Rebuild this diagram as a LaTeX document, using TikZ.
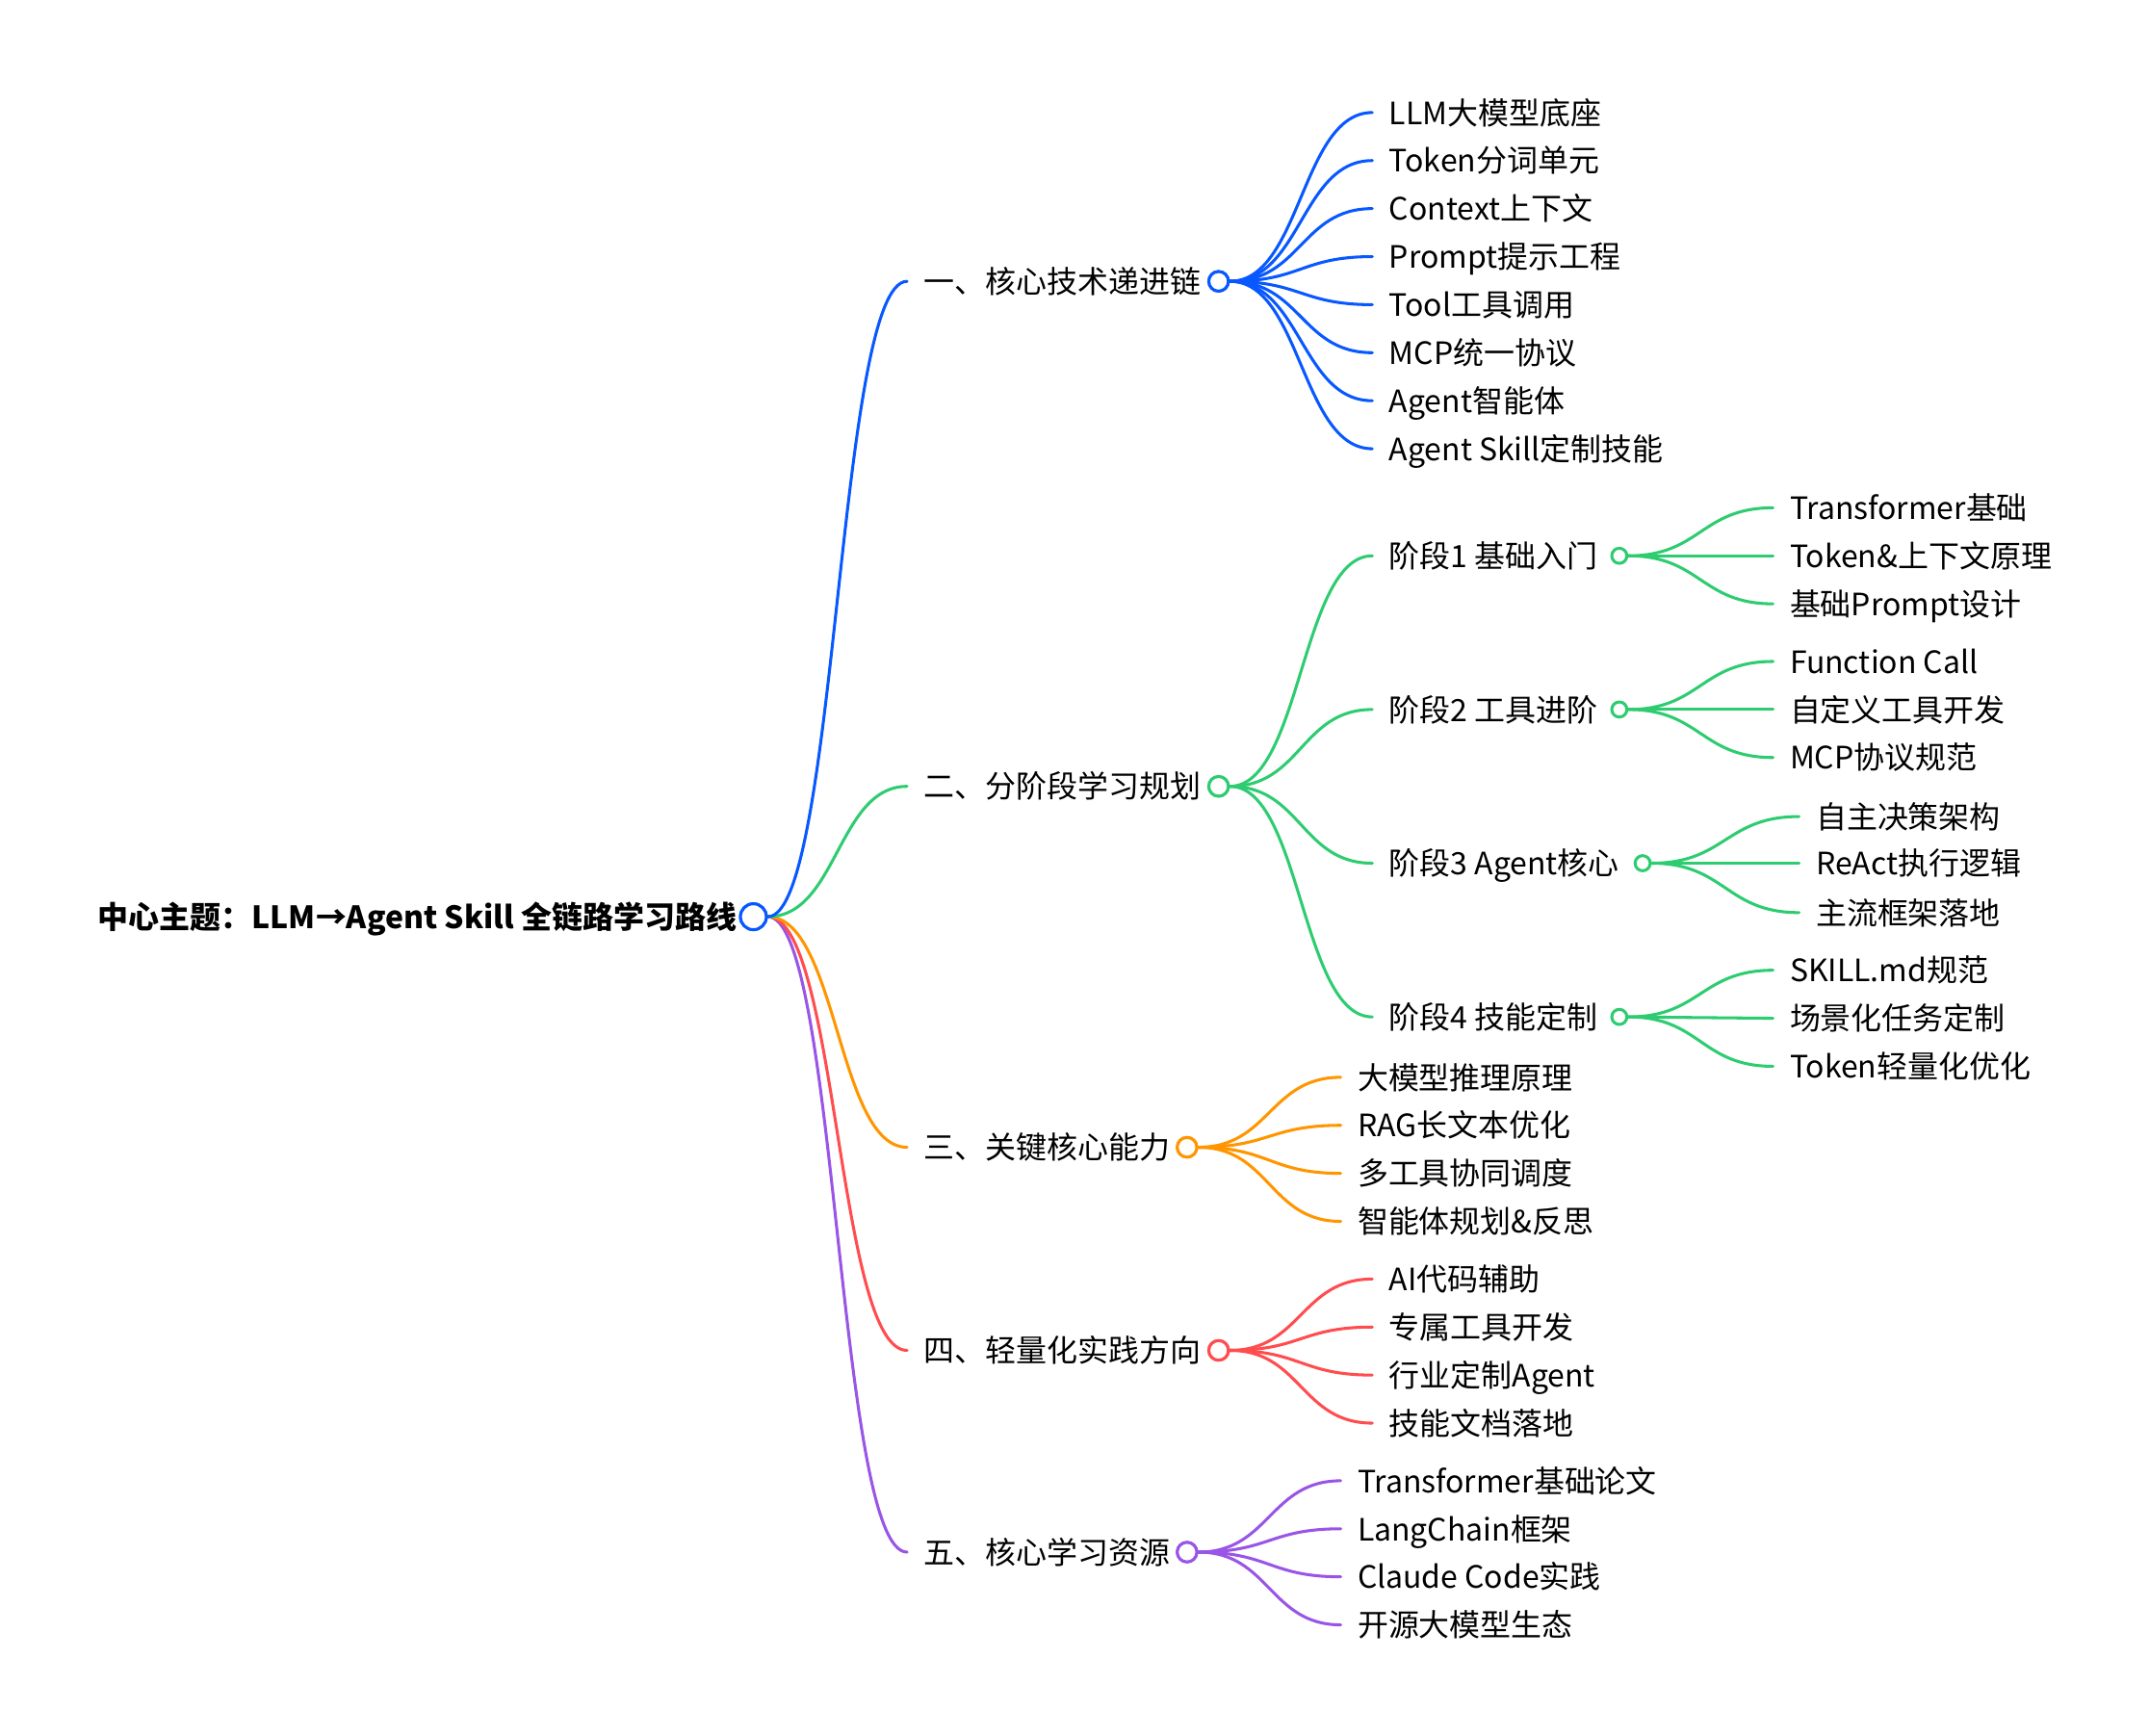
\documentclass[tikz,border=0pt]{standalone}
\usepackage{fontspec}
\setmainfont{Noto Sans CJK SC}
\usetikzlibrary{calc}
\definecolor{cblue}{RGB}{8,88,255}
\definecolor{cgreen}{RGB}{46,204,113}
\definecolor{corange}{RGB}{255,150,0}
\definecolor{cred}{RGB}{255,77,79}
\definecolor{cpurple}{RGB}{153,85,230}
\tikzset{
  lnk/.style={line width=1.5pt, line cap=round},
  txt/.style={font=\fontsize{15.7}{18}\selectfont, anchor=west, inner xsep=8.4pt, inner ysep=0pt, text height=14pt, text depth=2pt},
  dot/.style={circle, draw=#1, fill=white, line width=1.5pt, inner sep=0pt},
  rootdot/.style={dot=#1, minimum size=13.2pt},
  brdot/.style={dot=#1, minimum size=10pt},
  stdot/.style={dot=#1, minimum size=7.7pt},
}
\newcommand\mlink[3]{%
  \coordinate (mid) at ($(#2)!0.5!(#3)$);
  \draw[lnk,#1] (#2) .. controls (mid |- #2) and (mid |- #3) .. (#3);
}
\begin{document}
\begin{tikzpicture}[x=0.7pt,y=-0.7pt]
\path[fill=white,use as bounding box] (0,0) rectangle (1566,1264.6);
% root
\node[rootdot=cblue] (R) at (549,668) {};
\node[font=\fontsize{15.7}{18}\selectfont\bfseries, anchor=east, inner sep=0pt, text height=14pt, text depth=2pt] (RT) at (537,668) {中心主题：LLM→Agent Skill 全链路学习路线};
% branch titles
\node[txt] (T1) at (661,205) {一、核心技术递进链};
\node[txt] (T2) at (661,573) {二、分阶段学习规划};
\node[txt] (T3) at (661,836) {三、关键核心能力};
\node[txt] (T4) at (661,984) {四、轻量化实践方向};
\node[txt] (T5) at (661,1131) {五、核心学习资源};
\node[brdot=cblue] (B1) at (888,205) {};
\node[brdot=cgreen] (B2) at (888,573) {};
\node[brdot=corange] (B3) at (865,836) {};
\node[brdot=cred] (B4) at (888,984) {};
\node[brdot=cpurple] (B5) at (865,1131) {};
\mlink{cpurple}{R.east}{T5.west}
\mlink{cred}{R.east}{T4.west}
\mlink{corange}{R.east}{T3.west}
\mlink{cgreen}{R.east}{T2.west}
\mlink{cblue}{R.east}{T1.west}
% branch 1
\foreach \y/\t [count=\i] in {82/LLM大模型底座,117/Token分词单元,152/Context上下文,187/Prompt提示工程,222/Tool工具调用,257/MCP统一协议,292/Agent智能体,327/Agent Skill定制技能}{
  \node[txt] (C1n\i) at (1000,\y) {\t};
  \mlink{cblue}{B1.east}{C1n\i.west}
}
% branch 2 stages
\node[txt] (ST1) at (1000,405) {阶段1 基础入门};
\node[txt] (ST2) at (1000,517) {阶段2 工具进阶};
\node[txt] (ST3) at (1000,629) {阶段3 Agent核心};
\node[txt] (ST4) at (1000,741) {阶段4 技能定制};
\node[stdot=cgreen] (S1) at (1180,405) {};
\node[stdot=cgreen] (S2) at (1180,517) {};
\node[stdot=cgreen] (S3) at (1197,629) {};
\node[stdot=cgreen] (S4) at (1180,741) {};
\foreach \k in {1,2,3,4}{ \mlink{cgreen}{B2.east}{ST\k.west} }
\foreach \y/\t [count=\i] in {370/Transformer基础,405/Token\&上下文原理,440/基础Prompt设计}{
  \node[txt] (D1n\i) at (1292,\y) {\t};
  \mlink{cgreen}{S1.east}{D1n\i.west}
}
\foreach \y/\t [count=\i] in {482/Function Call,517/自定义工具开发,552/MCP协议规范}{
  \node[txt] (D2n\i) at (1292,\y) {\t};
  \mlink{cgreen}{S2.east}{D2n\i.west}
}
\foreach \y/\t [count=\i] in {595/自主决策架构,629/ReAct执行逻辑,665/主流框架落地}{
  \node[txt] (D3n\i) at (1311,\y) {\t};
  \mlink{cgreen}{S3.east}{D3n\i.west}
}
\foreach \y/\t [count=\i] in {707/SKILL.md规范,742/场景化任务定制,777/Token轻量化优化}{
  \node[txt] (D4n\i) at (1292,\y) {\t};
  \mlink{cgreen}{S4.east}{D4n\i.west}
}
% branch 3
\foreach \y/\t [count=\i] in {785/大模型推理原理,820/RAG长文本优化,855/多工具协同调度,890/智能体规划\&反思}{
  \node[txt] (C3n\i) at (977,\y) {\t};
  \mlink{corange}{B3.east}{C3n\i.west}
}
% branch 4
\foreach \y/\t [count=\i] in {932/AI代码辅助,967/专属工具开发,1002/行业定制Agent,1037/技能文档落地}{
  \node[txt] (C4n\i) at (1000,\y) {\t};
  \mlink{cred}{B4.east}{C4n\i.west}
}
% branch 5
\foreach \y/\t [count=\i] in {1079/Transformer基础论文,1114/LangChain框架,1149/Claude Code实践,1184/开源大模型生态}{
  \node[txt] (C5n\i) at (977,\y) {\t};
  \mlink{cpurple}{B5.east}{C5n\i.west}
}
% redraw dots on top
\node[rootdot=cblue] at (R) {};
\node[brdot=cblue] at (B1) {};
\node[brdot=cgreen] at (B2) {};
\node[brdot=corange] at (B3) {};
\node[brdot=cred] at (B4) {};
\node[brdot=cpurple] at (B5) {};
\end{tikzpicture}
\end{document}
